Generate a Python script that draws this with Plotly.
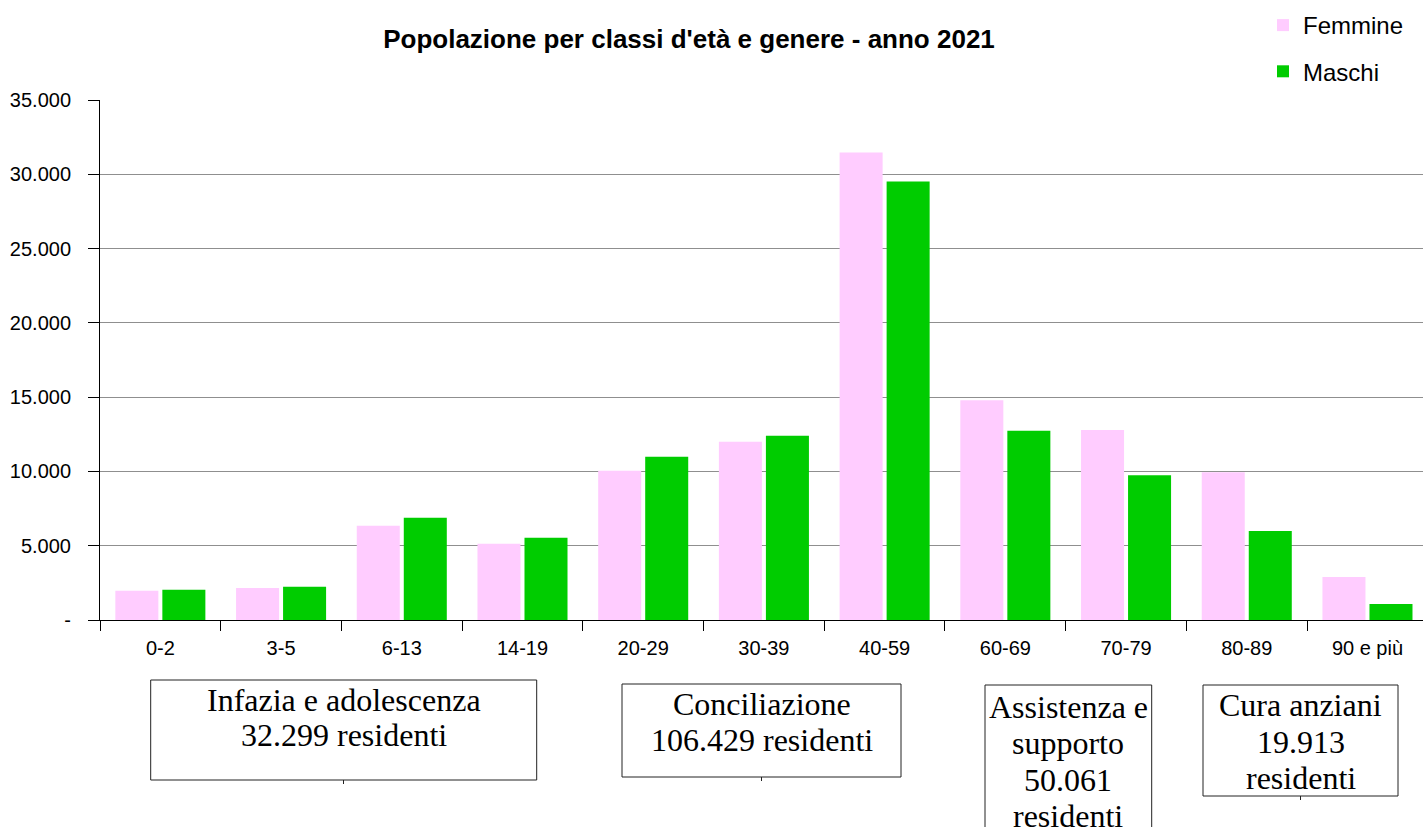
import plotly.graph_objects as go

# Age classes and resident counts by gender, 2021
classi = ["0-2", "3-5", "6-13", "14-19", "20-29", "30-39", "40-59",
          "60-69", "70-79", "80-89", "90 e più"]
femmine = [1970, 2160, 6345, 5140, 10050, 12000, 31469, 14790, 12790, 9950, 2900]
maschi = [2040, 2235, 6879, 5530, 10990, 12400, 29520, 12730, 9751, 5990, 1073]

# y-axis ticks
y_tickvals = [0, 5000, 10000, 15000, 20000, 25000, 30000, 35000]
y_ticktext = ["-", "5.000", "10.000", "15.000", "20.000", "25.000", "30.000", "35.000"]

# Grouping boxes below the axis: text lines
gruppi_testo = [
    ["Infazia e adolescenza", "32.299 residenti"],
    ["Conciliazione", "106.429 residenti"],
    ["Assistenza e", "supporto", "50.061", "residenti"],
    ["Cura anziani", "19.913", "residenti"],
]

W, H = 1423, 827
L, R, T, B = 100, 0, 100, 207
PW, PH = W - L - R, H - T - B


def px(x):
    return (x - L) / PW


def py(y):
    return (H - B - y) / PH


SANS = "Liberation Sans, Arial, sans-serif"
SERIF = "Liberation Serif, Times New Roman, serif"

fig = go.Figure()
fig.add_trace(go.Bar(x=classi, y=femmine, name="Femmine", marker_color="#FFCCFF",
                     marker_line_width=0, legendgroup="f"))
fig.add_trace(go.Bar(x=classi, y=maschi, name="Maschi", marker_color="#00CC00",
                     marker_line_width=0, legendgroup="m"))

# box geometry in pixels: (x0, y0, x1, y1), centre x, first baseline, line step
boxes = [
    ((150.7, 680, 536.7, 780), 343.7, 710.7, 35.5),
    ((622, 684, 901, 777), 761.5, 715.0, 36.0),
    ((985, 685, 1151.7, 845), 1068.3, 717.7, 36.5),
    ((1203, 685, 1398, 796), 1300.5, 716.0, 36.7),
]

shapes = []
annotations = []
for (x0, y0, x1, y1), cx, base, step in boxes:
    shapes.append(dict(type="rect", xref="paper", yref="paper",
                       x0=px(x0), x1=px(x1), y0=py(y1), y1=py(y0),
                       line=dict(color="#222222", width=1), fillcolor="rgba(0,0,0,0)"))
for ((x0, y0, x1, y1), cx, base, step), righe in zip(boxes, gruppi_testo):
    for i, riga in enumerate(righe):
        b = base + i * step
        annotations.append(dict(text=riga, xref="paper", yref="paper",
                                x=px(cx), y=py(b - 11), xanchor="center", yanchor="middle",
                                showarrow=False,
                                font=dict(family=SERIF, size=32, color="#000000")))

# small stubs under the boxes
for sx, sy in [(343.5, 780), (761.5, 777), (1300.5, 796)]:
    shapes.append(dict(type="line", xref="paper", yref="paper",
                       x0=px(sx), x1=px(sx), y0=py(sy), y1=py(sy + 4),
                       line=dict(color="#222222", width=1)))

# white area behind the legend
shapes.append(dict(type="rect", xref="paper", yref="paper", layer="above",
                   x0=px(1263), x1=px(1421), y0=py(104), y1=py(0),
                   line=dict(width=0), fillcolor="#FFFFFF"))

fig.update_layout(
    width=W, height=H,
    margin=dict(l=L, r=R, t=T, b=B, pad=0),
    paper_bgcolor="#FFFFFF", plot_bgcolor="#FFFFFF",
    barmode="group", bargap=0.221, bargroupgap=0.085,
    font=dict(family=SANS, color="#000000"),
    title=dict(text="Popolazione per classi d'età e genere - anno 2021",
               font=dict(family=SANS, size=26, weight="bold", color="#000000"),
               xref="container", yref="container",
               x=689 / W, xanchor="center", y=1 - 39 / H, yanchor="middle"),
    legend=dict(x=px(1263), xanchor="left", y=py(3), yanchor="top",
                bgcolor="#FFFFFF", borderwidth=0,
                font=dict(family=SANS, size=24, color="#000000"),
                traceorder="grouped", tracegroupgap=12),
    xaxis=dict(type="category", range=[-0.5, 10.46], tickson="boundaries",
               ticks="outside", ticklen=10, tickcolor="#000000", tickwidth=1,
               showline=True, linecolor="#000000", linewidth=1, showgrid=False,
               tickfont=dict(family=SANS, size=20, color="#000000"),
               ticklabelstandoff=10),
    yaxis=dict(range=[0, 35000], tickvals=y_tickvals, ticktext=y_ticktext,
               ticks="outside", ticklen=11, tickcolor="#000000", tickwidth=1,
               showline=True, linecolor="#000000", linewidth=1,
               showgrid=True, gridcolor="#8F8F8F", gridwidth=1, zeroline=False,
               tickfont=dict(family=SANS, size=20, color="#000000"),
               ticklabelstandoff=13),
    shapes=shapes,
    annotations=annotations,
)

fig.write_html("out.html")
